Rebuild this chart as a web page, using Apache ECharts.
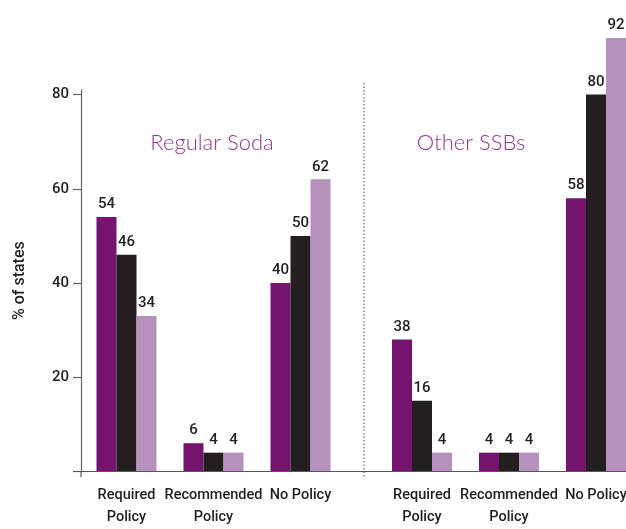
<!DOCTYPE html>
<html>
<head>
<meta charset="utf-8">
<script src="https://cdn.jsdelivr.net/npm/echarts@6/dist/echarts.min.js"></script>
<style>
html,body{margin:0;padding:0;background:#fff;}
#chart{width:626px;height:529px;}
</style>
</head>
<body>
<div id="chart"></div>
<script>
// ---- data ----
const categories = ['Required\nPolicy', 'Recommended\nPolicy', 'No Policy'];
const groupTitles = ['Regular Soda', 'Other SSBs'];
const yTicks = [0, 20, 40, 60, 80];
const yLabels = [20, 40, 60, 80];
const yAxisName = '% of states';
// bar heights as drawn
const sodaPurple = [54, 6, 40];
const sodaBlack = [46, 4, 50];
const sodaLavender = [33, 4, 62];
const ssbPurple = [28, 4, 58];
const ssbBlack = [15, 4, 80];
const ssbLavender = [4, 4, 92];
// printed value labels
const sodaPurpleLbl = [54, 6, 40];
const sodaBlackLbl = [46, 4, 50];
const sodaLavenderLbl = [34, 4, 62];
const ssbPurpleLbl = [38, 4, 58];
const ssbBlackLbl = [16, 4, 80];
const ssbLavenderLbl = [4, 4, 92];

const COLORS = ['#74146f', '#231f20', '#b592bb'];
const NARROW = "'Roboto', 'Liberation Sans Narrow', sans-serif";
const TXT = '#231f20';

const chart = echarts.init(document.getElementById('chart'), null, {renderer: 'canvas'});

function mkSeries(data, labels, colorIdx, axisIdx) {
  return {
    type: 'bar',
    xAxisIndex: axisIdx,
    yAxisIndex: axisIdx,
    data: data,
    barWidth: 20,
    barGap: '0%',
    clip: false,
    itemStyle: {color: COLORS[colorIdx]},
    label: {
      show: true,
      position: 'top',
      distance: 5,
      color: TXT,
      fontFamily: NARROW,
      fontSize: 15,
      fontWeight: 500,
      formatter: p => String(labels[p.dataIndex])
    }
  };
}

const gridTop = 89.8, gridH = 381.7;
const xAxisCommon = {
  type: 'category',
  data: categories,
  axisLine: {show: false},
  axisTick: {show: false},
  axisLabel: {
    color: TXT, fontFamily: NARROW, fontSize: 14.5, fontWeight: 500, lineHeight: 22, margin: 13, interval: 0
  }
};
const yAxisCommon = {
  type: 'value', min: 0, max: 81, interval: 20,
  splitLine: {show: false}
};

const option = {
  animation: false,
  grid: [
    {left: 83, width: 261, top: gridTop, height: gridH, outerBoundsMode: 'none', containLabel: false},
    {left: 378.5, width: 261, top: gridTop, height: gridH, outerBoundsMode: 'none', containLabel: false}
  ],
  xAxis: [
    Object.assign({gridIndex: 0}, xAxisCommon),
    Object.assign({gridIndex: 1}, xAxisCommon)
  ],
  yAxis: [
    Object.assign({gridIndex: 0}, yAxisCommon, {
      offset: 2,
      name: yAxisName,
      nameLocation: 'middle',
      nameGap: 53,
      nameTextStyle: {color: TXT, fontFamily: NARROW, fontSize: 16, fontWeight: 500},
      axisLine: {show: true, lineStyle: {color: '#666', width: 1.2}},
      axisTick: {show: true, length: 8, lineStyle: {color: '#666', width: 1.2}, customValues: yTicks},
      axisLabel: {
        color: TXT, fontFamily: NARROW, fontSize: 15, fontWeight: 500, margin: 12,
        customValues: yLabels
      }
    }),
    Object.assign({gridIndex: 1}, yAxisCommon, {
      show: false
    })
  ],
  title: [
    {text: groupTitles[0], left: 207, top: 127, textAlign: 'center',
     textStyle: {color: '#8b3a8e', fontFamily: 'Lato', fontWeight: 300, fontSize: 22}},
    {text: groupTitles[1], left: 466, top: 127, textAlign: 'center',
     textStyle: {color: '#8b3a8e', fontFamily: 'Lato', fontWeight: 300, fontSize: 22}}
  ],
  graphic: [
    {type: 'line', shape: {x1: 73, y1: 471.5, x2: 626, y2: 471.5},
     style: {stroke: '#555', lineWidth: 1.2}, z: 10},
    {type: 'line', shape: {x1: 81, y1: 471, x2: 81, y2: 477},
     style: {stroke: '#555', lineWidth: 1.2}, z: 10},
    {type: 'line', shape: {x1: 364, y1: 83, x2: 364, y2: 479},
     style: {stroke: '#444', lineWidth: 1, lineDash: [1.5, 2]}, z: 10}
  ],
  series: [
    mkSeries(sodaPurple, sodaPurpleLbl, 0, 0),
    mkSeries(sodaBlack, sodaBlackLbl, 1, 0),
    mkSeries(sodaLavender, sodaLavenderLbl, 2, 0),
    mkSeries(ssbPurple, ssbPurpleLbl, 0, 1),
    mkSeries(ssbBlack, ssbBlackLbl, 1, 1),
    mkSeries(ssbLavender, ssbLavenderLbl, 2, 1)
  ]
};
chart.setOption(option);
</script>
</body>
</html>
